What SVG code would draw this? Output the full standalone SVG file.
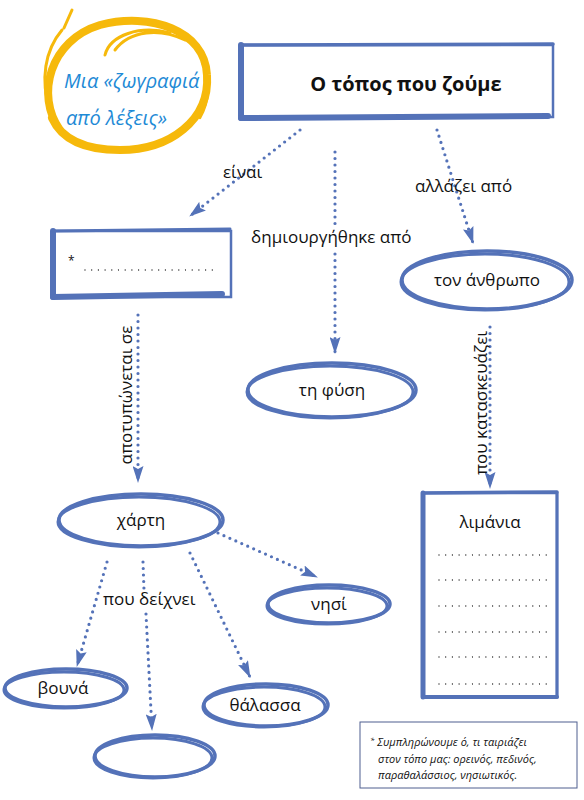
<svg xmlns="http://www.w3.org/2000/svg" width="584" height="800" viewBox="0 0 584 800">
<defs>
<marker id="ah" viewBox="0 0 17 11" refX="16" refY="5.5" markerWidth="17" markerHeight="11" orient="auto" markerUnits="userSpaceOnUse">
<path d="M0,0 L3,5.5 L0,11 L17,5.5 Z" fill="#5472b8"/>
</marker>
<style>
.t{font-family:"Open Sans","Noto Sans",sans-serif;font-size:17px;fill:#111;}
.ttl{font-size:20px;font-weight:bold;}
.c{stroke:#5472b8;stroke-width:3.2;stroke-linecap:round;stroke-dasharray:0 6.5;fill:none;}
.e{fill:#fff;stroke:#5472b8;stroke-width:3.5;}
.e2{fill:none;stroke:#5472b8;stroke-width:3;}
.b{fill:#fff;stroke:#5472b8;stroke-width:2.5;}
.thick{stroke:#5472b8;stroke-linecap:round;}
.dots{stroke:#222;stroke-width:1.3;stroke-linecap:round;stroke-dasharray:0 6.7;}
.y{fill:none;stroke:#f6b90b;stroke-linecap:round;}
.fn{font-family:"Open Sans","Noto Sans",sans-serif;font-style:italic;font-size:11px;fill:#111;}
</style>
</defs>
<rect width="584" height="800" fill="#fff"/>

<g id="logo">
<path class="y" stroke-width="8" d="M60,130 C35,95 50,40 100,25 C150,12 205,30 207,75 C210,120 170,150 120,150 C85,150 62,140 52,118"/>
<path class="y" stroke-width="3" d="M50,110 C40,80 45,50 62,30 M64,28 L72,10"/>
<path class="y" stroke-width="3" d="M105,55 C110,35 140,25 170,33 M115,50 C130,30 160,28 185,40"/>
<path class="y" stroke-width="2.5" d="M202,62 C210,80 210,100 200,118"/>
<text x="64" y="88" font-family="'Open Sans',sans-serif" font-style="italic" font-size="20" fill="#1e8ad6">Μια «ζωγραφιά</text>
<text x="66" y="125" font-family="'Open Sans',sans-serif" font-style="italic" font-size="20" fill="#1e8ad6">από λέξεις»</text>
</g>

<g id="title">
<rect class="b" x="241" y="45" width="312" height="72"/>
<line class="thick" x1="241" y1="45" x2="241" y2="118" stroke-width="6"/>
<line class="thick" x1="241" y1="118" x2="548" y2="116" stroke-width="6"/>
<line class="thick" x1="241" y1="45" x2="553" y2="44" stroke-width="3.5"/>
<text class="t ttl" x="406" y="91" text-anchor="middle">Ο τόπος που ζούμε</text>
</g>

<g id="box1">
<rect class="b" x="53" y="231" width="178" height="66"/>
<line class="thick" x1="53" y1="231" x2="53" y2="297" stroke-width="6"/>
<line class="thick" x1="53" y1="297" x2="222" y2="294" stroke-width="6"/>
<line class="thick" x1="53" y1="231" x2="230" y2="229" stroke-width="3"/>
<text x="68" y="265" font-family="'Open Sans',sans-serif" font-size="12" fill="#111">*</text>
<line class="dots" x1="85" y1="270" x2="218" y2="270"/>
</g>

<g id="fysi">
<ellipse class="e" cx="332" cy="390" rx="84" ry="27"/>
<ellipse class="e2" cx="330" cy="392" rx="83" ry="26"/>
<text class="t" x="332" y="396" text-anchor="middle">τη φύση</text>
</g>

<g id="anthropos">
<ellipse class="e" cx="487" cy="280" rx="85" ry="29"/>
<ellipse class="e2" cx="485" cy="282" rx="84" ry="28"/>
<text class="t" x="487" y="286" text-anchor="middle">τον άνθρωπο</text>
</g>

<g id="limania">
<rect class="b" x="423" y="493" width="134" height="204"/>
<line class="thick" x1="423" y1="493" x2="423" y2="697" stroke-width="5"/>
<line class="thick" x1="423" y1="697" x2="557" y2="697" stroke-width="4"/>
<line class="thick" x1="423" y1="493" x2="557" y2="492" stroke-width="3.5"/>
<line class="thick" x1="557" y1="493" x2="557" y2="697" stroke-width="3"/>
<text class="t" x="490" y="528" text-anchor="middle">λιμάνια</text>
<line class="dots" x1="439" y1="555" x2="550" y2="555"/>
<line class="dots" x1="439" y1="580" x2="550" y2="580"/>
<line class="dots" x1="439" y1="606" x2="550" y2="606"/>
<line class="dots" x1="439" y1="632" x2="550" y2="632"/>
<line class="dots" x1="439" y1="657" x2="550" y2="657"/>
<line class="dots" x1="439" y1="684" x2="550" y2="684"/>
</g>

<g id="xarti">
<ellipse class="e" cx="141" cy="520" rx="82" ry="26"/>
<ellipse class="e2" cx="139" cy="522" rx="81" ry="25"/>
<text class="t" x="141" y="526" text-anchor="middle">χάρτη</text>
</g>

<g id="nisi">
<ellipse class="e" cx="329" cy="604" rx="61" ry="19"/>
<ellipse class="e2" cx="327" cy="606" rx="60" ry="18"/>
<text class="t" x="329" y="610" text-anchor="middle">νησί</text>
</g>

<g id="vouna">
<ellipse class="e" cx="66" cy="688" rx="61" ry="19"/>
<ellipse class="e2" cx="64" cy="690" rx="60" ry="18"/>
<text class="t" x="63" y="694" text-anchor="middle">βουνά</text>
</g>

<g id="thalassa">
<ellipse class="e" cx="266" cy="705" rx="62" ry="21"/>
<ellipse class="e2" cx="264" cy="707" rx="61" ry="20"/>
<text class="t" x="265" y="711" text-anchor="middle">θάλασσα</text>
</g>

<g id="empty">
<ellipse class="e" cx="155" cy="756" rx="60" ry="21"/>
<ellipse class="e2" cx="153" cy="758" rx="59" ry="20"/>
</g>

<g id="connectors">
<path class="c" d="M300,130 L190,216" marker-end="url(#ah)"/>
<text class="t" x="223" y="178">είναι</text>
<path class="c" d="M335,152 L335,228"/>
<text class="t" x="251" y="243">δημιουργήθηκε από</text>
<path class="c" d="M335,254 L335,353" marker-end="url(#ah)"/>
<path class="c" d="M437,130 L473,243" marker-end="url(#ah)"/>
<text class="t" x="415" y="192">αλλάζει από</text>
<path class="c" d="M490,327 L490,488" marker-end="url(#ah)"/>
<text class="t" transform="translate(487,403) rotate(-90)" text-anchor="middle">που κατασκευάζει</text>
<path class="c" d="M138,315 L138,482" marker-end="url(#ah)"/>
<text class="t" transform="translate(132,395) rotate(-90)" text-anchor="middle">αποτυπώνεται σε</text>
<path class="c" d="M218,533 L317,577" marker-end="url(#ah)"/>
<path class="c" d="M107,562 L77,666" marker-end="url(#ah)"/>
<path class="c" d="M143,562 L144,590"/>
<text class="t" x="103" y="605">που δείχνει</text>
<path class="c" d="M146,614 L152,730" marker-end="url(#ah)"/>
<path class="c" d="M190,553 L250,677" marker-end="url(#ah)"/>
</g>

<g id="footnote">
<rect x="360" y="722" width="217" height="66" fill="#fff" stroke="#4f5f8f" stroke-width="1"/>
<text class="fn" x="370" y="746"><tspan font-size="8" dy="-3">*</tspan><tspan dy="3"> Συμπληρώνουμε ό, τι ταιριάζει</tspan></text>
<text class="fn" x="378" y="763">στον τόπο μας: ορεινός, πεδινός,</text>
<text class="fn" x="378" y="779">παραθαλάσσιος, νησιωτικός.</text>
</g>
</svg>
